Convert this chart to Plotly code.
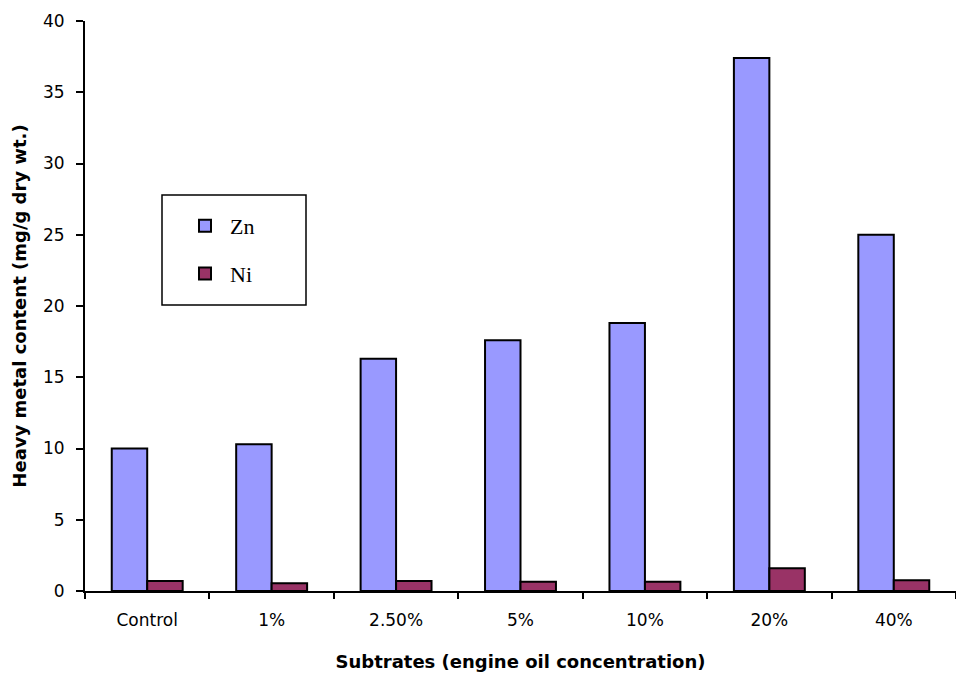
import plotly.graph_objects as go

categories = ["Control", "1%", "2.50%", "5%", "10%", "20%", "40%"]
zn_values = [10.0, 10.3, 16.3, 17.6, 18.8, 37.4, 25.0]
ni_values = [0.7, 0.55, 0.7, 0.65, 0.65, 1.6, 0.75]

W, H = 956, 677
L, R, T, B = 85, 0, 21, 86
pw, ph = W - L - R, H - T - B

def px_to_paper_x(px):
    return (px - L) / pw

def px_to_paper_y(py):
    return (H - B - py) / ph

fig = go.Figure()
fig.add_trace(go.Bar(name="Zn", x=categories, y=zn_values, legendgroup="zn",
                     marker=dict(color="#9999FF", line=dict(color="black", width=2))))
fig.add_trace(go.Bar(name="Ni", x=categories, y=ni_values, legendgroup="ni",
                     marker=dict(color="#993366", line=dict(color="black", width=2))))

fig.add_shape(type="rect", xref="paper", yref="paper",
              x0=px_to_paper_x(162), x1=px_to_paper_x(306),
              y0=px_to_paper_y(305), y1=px_to_paper_y(195),
              line=dict(color="black", width=1.5), fillcolor="rgba(0,0,0,0)")

tick_font = dict(family="DejaVu Sans", size=17, color="black")
title_font = dict(family="DejaVu Sans", size=18, color="black", weight="bold")

fig.update_layout(
    width=W, height=H,
    margin=dict(l=L, r=R, t=T, b=B, autoexpand=False),
    paper_bgcolor="white", plot_bgcolor="white",
    barmode="group", bargap=0.43, bargroupgap=0,
    showlegend=True,
    legend=dict(x=px_to_paper_x(180), y=px_to_paper_y(205), xanchor="left", yanchor="top",
                bgcolor="rgba(0,0,0,0)", borderwidth=0,
                font=dict(family="Liberation Serif", size=22, color="black"),
                tracegroupgap=16, traceorder="grouped", itemwidth=40),
    xaxis=dict(range=[-0.5, 6.5], showline=True, linecolor="black", linewidth=2,
               ticks="outside", tickson="boundaries", ticklen=6, tickwidth=2, tickcolor="black",
               tickfont=tick_font, showgrid=False, zeroline=False, ticklabelstandoff=13,
               title=dict(text="Subtrates (engine oil concentration)", font=title_font, standoff=26)),
    yaxis=dict(range=[0, 40], dtick=5, showline=True, linecolor="black", linewidth=2,
               ticks="outside", ticklen=7, tickwidth=2, tickcolor="black",
               tickfont=tick_font, showgrid=False, zeroline=False, ticklabelstandoff=8,
               title=dict(text="Heavy metal content (mg/g dry wt.)", font=title_font, standoff=12)),
)

fig.write_html("out.html")
